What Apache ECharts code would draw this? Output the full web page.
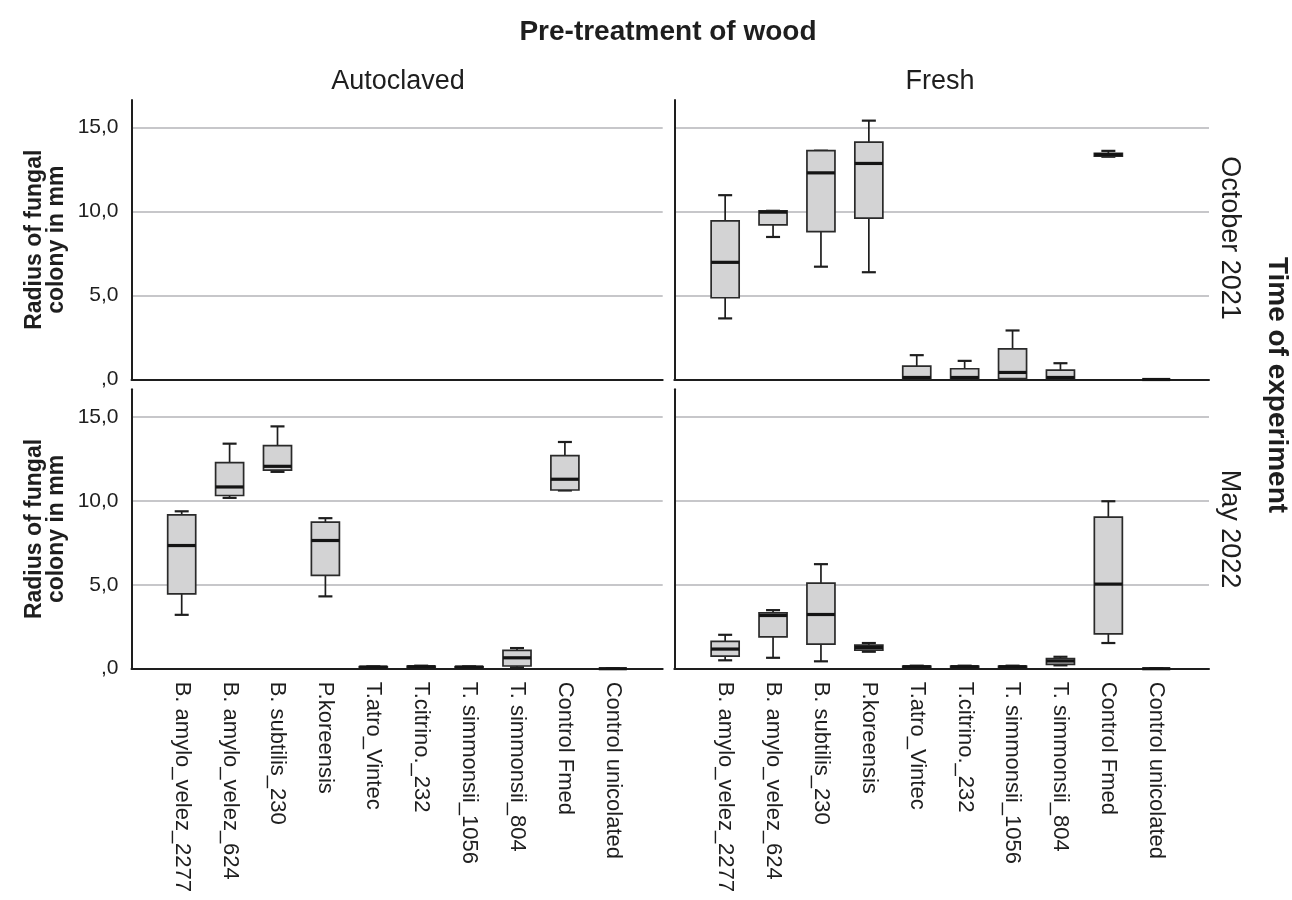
<!DOCTYPE html>
<html>
<head>
<meta charset="utf-8">
<script src="https://cdn.jsdelivr.net/npm/echarts@6/dist/echarts.min.js"></script>
<style>
  html, body { margin: 0; padding: 0; background: #fff; }
  #chart { width: 1292px; height: 900px; }
</style>
</head>
<body>
<div id="chart"></div>
<script>
// ---- Data ----
const categories = [
  'B. amylo_velez_2277', 'B. amylo_velez_624', 'B. subtilis_230', 'P.koreensis',
  'T.atro_Vintec', 'T.citrino._232', 'T. simmonsii_1056', 'T. simmonsii_804',
  'Control Fmed', 'Control unicolated'
];
const yTicks = [0, 5, 10, 15];
const treatments = ['Autoclaved', 'Fresh'];
const periods = ['October 2021', 'May 2022'];

// each box: [min, Q1, median, Q3, max]
const autoclavedOct2021 = [];
const freshOct2021 = [
  [3.64, 4.87, 6.98, 9.45, 10.98],
  [8.49, 9.21, 9.97, 10.05, 10.05],
  [6.72, 8.81, 12.31, 13.63, 13.63],
  [6.39, 9.61, 12.87, 14.14, 15.42],
  [0.00, 0.05, 0.12, 0.80, 1.45],
  [0.00, 0.05, 0.12, 0.64, 1.11],
  [0.00, 0.05, 0.42, 1.83, 2.92],
  [0.00, 0.05, 0.12, 0.56, 0.97],
  [13.27, 13.31, 13.40, 13.47, 13.62],
  [0, 0, 0, 0, 0]
];
const autoclavedMay2022 = [
  [3.21, 4.46, 7.34, 9.17, 9.38],
  [10.18, 10.32, 10.83, 12.28, 13.41],
  [11.73, 11.83, 12.06, 13.29, 14.44],
  [4.31, 5.56, 7.64, 8.73, 8.97],
  [0.05, 0.07, 0.10, 0.12, 0.14],
  [0.06, 0.08, 0.12, 0.15, 0.18],
  [0.05, 0.07, 0.10, 0.12, 0.14],
  [0.08, 0.16, 0.65, 1.09, 1.23],
  [10.62, 10.65, 11.29, 12.70, 13.51],
  [0, 0, 0, 0, 0]
];
const freshMay2022 = [
  [0.50, 0.75, 1.17, 1.63, 2.02],
  [0.65, 1.90, 3.17, 3.33, 3.49],
  [0.44, 1.47, 3.23, 5.10, 6.23],
  [1.01, 1.11, 1.27, 1.41, 1.53],
  [0.05, 0.08, 0.12, 0.15, 0.18],
  [0.05, 0.08, 0.12, 0.15, 0.18],
  [0.05, 0.08, 0.12, 0.15, 0.18],
  [0.20, 0.26, 0.46, 0.60, 0.71],
  [1.53, 2.08, 5.04, 9.03, 9.98],
  [0, 0, 0, 0, 0]
];

// ---- Layout ----
const FONT = '"Liberation Sans", Arial, sans-serif';
const Y_MAX = 16.65;
const panels = [
  { data: autoclavedOct2021, frame: { left: 131.5, top: 100, width: 531.2, height: 279.5 }, dataLeft: 157.75, bottom: false, leftAxis: true },
  { data: freshOct2021,      frame: { left: 674.3, top: 100, width: 534.7, height: 279.5 }, dataLeft: 701.2, bottom: false, leftAxis: false },
  { data: autoclavedMay2022, frame: { left: 131.5, top: 389.3, width: 531.2, height: 279.4 }, dataLeft: 157.75, bottom: true, leftAxis: true },
  { data: freshMay2022,      frame: { left: 674.3, top: 389.3, width: 534.7, height: 279.4 }, dataLeft: 701.2, bottom: true, leftAxis: false }
];
const DATA_WIDTH = 479;

function fmtTick(v) {
  if (yTicks.indexOf(v) < 0) return '';
  return v === 0 ? ',0' : v.toFixed(1).replace('.', ',');
}

const grid = [], xAxis = [], yAxis = [], series = [];
panels.forEach((p, i) => {
  // frame grid (axes, gridlines)
  grid.push({ left: p.frame.left, top: p.frame.top, width: p.frame.width, height: p.frame.height });
  // data grid (categories)
  grid.push({ left: p.dataLeft, top: p.frame.top, width: DATA_WIDTH, height: p.frame.height });
  const fg = 2 * i, dg = 2 * i + 1;
  xAxis.push({
    gridIndex: fg, type: 'value', min: 0, max: 1,
    axisLine: { show: true, lineStyle: { color: '#1e1e1e', width: 2 } },
    axisTick: { show: false }, axisLabel: { show: false }, splitLine: { show: false }
  });
  xAxis.push({
    gridIndex: dg, type: 'category', data: categories, boundaryGap: true,
    axisLine: { show: false }, axisTick: { show: false },
    axisLabel: {
      show: p.bottom, rotate: -90, interval: 0, margin: 13,
      fontFamily: FONT, fontSize: 22, color: '#1e1e1e'
    },
    splitLine: { show: false }
  });
  yAxis.push({
    gridIndex: fg, type: 'value', min: 0, max: Y_MAX, interval: 5,
    axisLine: { show: true, lineStyle: { color: '#1e1e1e', width: 2 } },
    axisTick: { show: false },
    axisLabel: {
      show: p.leftAxis, formatter: fmtTick, margin: 13, showMaxLabel: false,
      fontFamily: FONT, fontSize: 21, color: '#1e1e1e'
    },
    splitLine: { show: true, showMinLine: false, showMaxLine: false, lineStyle: { color: '#b5b5b9', width: 1.6 } },
    name: p.leftAxis ? 'Radius of fungal\ncolony in mm' : '',
    nameLocation: 'middle', nameGap: 64,
    nameTextStyle: { fontFamily: FONT, fontWeight: 'bold', fontSize: 23, lineHeight: 22, color: '#1e1e1e' }
  });
  yAxis.push({ gridIndex: dg, type: 'value', min: 0, max: Y_MAX, show: false });

  series.push({
    type: 'custom',
    xAxisIndex: dg, yAxisIndex: dg,
    encode: { x: 0, y: [1, 2, 3, 4, 5] },
    data: p.data.map((b, k) => [k].concat(b)),
    clip: false,
    renderItem: function (params, api) {
      const idx = api.value(0);
      const vMin = api.value(1), q1 = api.value(2), med = api.value(3), q3 = api.value(4), vMax = api.value(5);
      const band = api.size([1, 0])[0];
      const bw = band * 0.585;
      const cw = bw * 0.5;
      const pMin = api.coord([idx, vMin]);
      const pQ1 = api.coord([idx, q1]);
      const pMed = api.coord([idx, med]);
      const pQ3 = api.coord([idx, q3]);
      const pMax = api.coord([idx, vMax]);
      const cx = pMed[0];
      const dark = '#1e1e1e';
      const children = [];
      if (pMax[1] < pQ3[1]) {
        children.push({ type: 'line', shape: { x1: cx, y1: pMax[1], x2: cx, y2: pQ3[1] }, style: { stroke: dark, lineWidth: 1.7 } });
      }
      if (pMin[1] > pQ1[1]) {
        children.push({ type: 'line', shape: { x1: cx, y1: pQ1[1], x2: cx, y2: pMin[1] }, style: { stroke: dark, lineWidth: 1.7 } });
      }
      children.push({ type: 'line', shape: { x1: cx - cw / 2, y1: pMax[1], x2: cx + cw / 2, y2: pMax[1] }, style: { stroke: dark, lineWidth: 2.2 } });
      children.push({ type: 'line', shape: { x1: cx - cw / 2, y1: pMin[1], x2: cx + cw / 2, y2: pMin[1] }, style: { stroke: dark, lineWidth: 2.2 } });
      children.push({
        type: 'rect',
        shape: { x: cx - bw / 2, y: pQ3[1], width: bw, height: pQ1[1] - pQ3[1] },
        style: { fill: '#d3d3d4', stroke: '#2a2a2a', lineWidth: 1.7 }
      });
      children.push({ type: 'line', shape: { x1: cx - bw / 2, y1: pMed[1], x2: cx + bw / 2, y2: pMed[1] }, style: { stroke: '#141414', lineWidth: 3.2 } });
      return { type: 'group', children: children };
    }
  });
});

const option = {
  backgroundColor: '#ffffff',
  animation: false,
  title: [
    { text: 'Pre-treatment of wood', left: 663, top: 13, textAlign: 'center',
      textStyle: { fontFamily: FONT, fontWeight: 'bold', fontSize: 28, color: '#1e1e1e' } },
    { text: treatments[0], left: 393, top: 63, textAlign: 'center',
      textStyle: { fontFamily: FONT, fontWeight: 'normal', fontSize: 27, color: '#1e1e1e' } },
    { text: treatments[1], left: 935, top: 63, textAlign: 'center',
      textStyle: { fontFamily: FONT, fontWeight: 'normal', fontSize: 27, color: '#1e1e1e' } }
  ],
  grid: grid,
  xAxis: xAxis,
  yAxis: yAxis,
  series: series,
  graphic: [
    { type: 'text', x: 1229, y: 238, rotation: -Math.PI / 2,
      style: { text: periods[0], font: '27px ' + FONT, fill: '#1e1e1e', textAlign: 'center', textVerticalAlign: 'middle' } },
    { type: 'text', x: 1229, y: 529, rotation: -Math.PI / 2,
      style: { text: periods[1], font: '27px ' + FONT, fill: '#1e1e1e', textAlign: 'center', textVerticalAlign: 'middle' } },
    { type: 'text', x: 1277, y: 385, rotation: -Math.PI / 2,
      style: { text: 'Time of experiment', font: 'bold 28px ' + FONT, fill: '#1e1e1e', textAlign: 'center', textVerticalAlign: 'middle' } }
  ]
};

const chart = echarts.init(document.getElementById('chart'), null, { renderer: 'canvas' });
chart.setOption(option);
</script>
</body>
</html>
